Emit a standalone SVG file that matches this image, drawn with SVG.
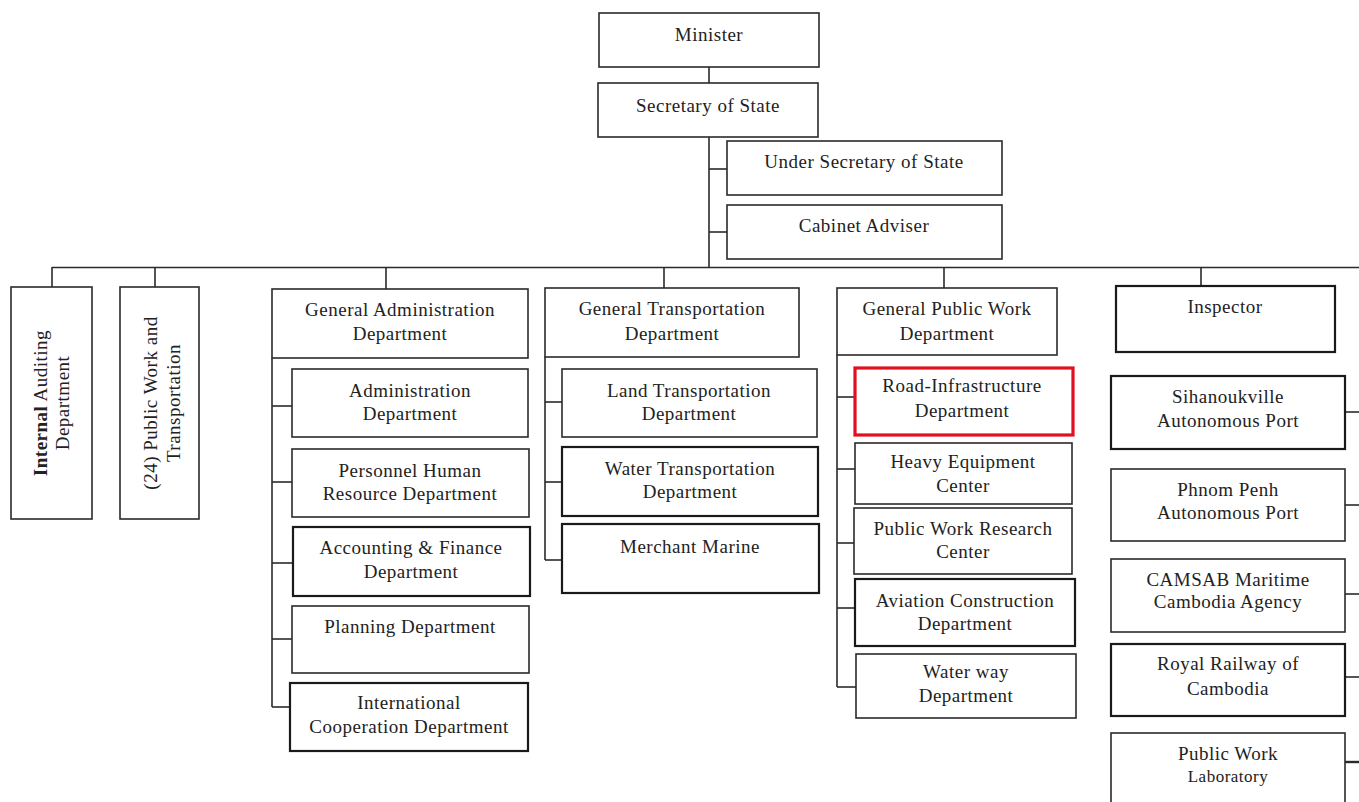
<svg xmlns="http://www.w3.org/2000/svg" width="1359" height="802" viewBox="0 0 1359 802">
<style>
.b{fill:#fff;stroke:#2a2a2a;stroke-width:1.6}
.k{fill:#fff;stroke:#1a1a1a;stroke-width:2.2}
.r{fill:#fff;stroke:#e0101e;stroke-width:3.2}
.t{font-family:"Liberation Serif","Times New Roman",serif;font-size:19px;letter-spacing:0.5px;fill:#222;text-anchor:middle}
.s{font-size:17px}
.c line{stroke:#2a2a2a;stroke-width:1.6}
</style>
<rect width="1359" height="802" fill="#fff"/>
<g class="c" id="connectors">
<line x1="709" y1="67" x2="709" y2="83"/>
<line x1="709" y1="137" x2="709" y2="268"/>
<line x1="709" y1="169" x2="727" y2="169"/>
<line x1="709" y1="232" x2="727" y2="232"/>
<line x1="52" y1="267.5" x2="1359" y2="267.5"/>
<line x1="52" y1="267" x2="52" y2="287"/>
<line x1="155" y1="267" x2="155" y2="287"/>
<line x1="386" y1="267" x2="386" y2="289"/>
<line x1="664" y1="267" x2="664" y2="288"/>
<line x1="944" y1="267" x2="944" y2="288"/>
<line x1="1201" y1="267" x2="1201" y2="286"/>
<line x1="272" y1="358" x2="272" y2="707"/>
<line x1="272" y1="406" x2="292" y2="406"/>
<line x1="272" y1="482" x2="292" y2="482"/>
<line x1="272" y1="563" x2="293" y2="563"/>
<line x1="272" y1="639" x2="292" y2="639"/>
<line x1="272" y1="707" x2="290" y2="707"/>
<line x1="545" y1="357" x2="545" y2="560"/>
<line x1="545" y1="402" x2="562" y2="402"/>
<line x1="545" y1="482" x2="562" y2="482"/>
<line x1="545" y1="560" x2="562" y2="560"/>
<line x1="837" y1="355" x2="837" y2="687"/>
<line x1="837" y1="397" x2="855" y2="397"/>
<line x1="837" y1="469" x2="855" y2="469"/>
<line x1="837" y1="543" x2="854" y2="543"/>
<line x1="837" y1="608" x2="855" y2="608"/>
<line x1="837" y1="687" x2="856" y2="687"/>
<line x1="1345" y1="412" x2="1359" y2="412"/>
<line x1="1345" y1="505" x2="1359" y2="505"/>
<line x1="1345" y1="594" x2="1359" y2="594"/>
<line x1="1345" y1="677" x2="1359" y2="677"/>
<line x1="1345" y1="762" x2="1359" y2="762" style="stroke-width:2.4"/>
</g>
<g id="minister"><rect class="b" x="599" y="13" width="220" height="54"/><text class="t" x="709" y="41">Minister</text></g>
<g id="secretary"><rect class="b" x="598" y="83" width="220" height="54"/><text class="t" x="708" y="112">Secretary of State</text></g>
<g id="under-secretary"><rect class="b" x="727" y="141" width="275" height="54"/><text class="t" x="864" y="168">Under Secretary of State</text></g>
<g id="cabinet-adviser"><rect class="b" x="727" y="205" width="275" height="54"/><text class="t" x="864" y="232">Cabinet Adviser</text></g>
<g id="internal-auditing"><rect class="b" x="11" y="287" width="81" height="232"/>
<g transform="rotate(-90 51.5 403)"><text class="t" x="51.5" y="398.5"><tspan font-weight="bold">Internal</tspan> Auditing</text><text class="t" x="51.5" y="420.5">Department</text></g></g>
<g id="public-work-24"><rect class="b" x="120" y="287" width="79" height="232"/>
<g transform="rotate(-90 159.5 403)"><text class="t" x="159.5" y="400.5">(24) Public Work and</text><text class="t" x="159.5" y="423">Transportation</text></g></g>
<g id="general-administration"><rect class="b" x="272" y="289" width="256" height="69"/><text class="t" x="400" y="316">General Administration</text><text class="t" x="400" y="340">Department</text></g>
<g id="administration"><rect class="b" x="292" y="369" width="236" height="68"/><text class="t" x="410" y="397">Administration</text><text class="t" x="410" y="420">Department</text></g>
<g id="personnel"><rect class="b" x="292" y="449" width="237" height="68"/><text class="t" x="410" y="477">Personnel Human</text><text class="t" x="410" y="500">Resource Department</text></g>
<g id="accounting"><rect class="k" x="293" y="527" width="237" height="69"/><text class="t" x="411" y="554">Accounting &amp; Finance</text><text class="t" x="411" y="578">Department</text></g>
<g id="planning"><rect class="b" x="292" y="606" width="237" height="67"/><text class="t" x="410" y="633">Planning Department</text></g>
<g id="international"><rect class="k" x="290" y="683" width="238" height="68"/><text class="t" x="409" y="709">International</text><text class="t" x="409" y="733">Cooperation Department</text></g>
<g id="general-transportation"><rect class="b" x="545" y="288" width="254" height="69"/><text class="t" x="672" y="315">General Transportation</text><text class="t" x="672" y="340">Department</text></g>
<g id="land-transportation"><rect class="b" x="562" y="369" width="255" height="68"/><text class="t" x="689" y="397">Land Transportation</text><text class="t" x="689" y="420">Department</text></g>
<g id="water-transportation"><rect class="k" x="562" y="447" width="256" height="69"/><text class="t" x="690" y="475">Water Transportation</text><text class="t" x="690" y="498">Department</text></g>
<g id="merchant-marine"><rect class="k" x="562" y="524" width="257" height="69"/><text class="t" x="690" y="553">Merchant Marine</text></g>
<g id="general-public-work"><rect class="b" x="837" y="288" width="220" height="67"/><text class="t" x="947" y="315">General Public Work</text><text class="t" x="947" y="340">Department</text></g>
<g id="road-infrastructure"><rect class="r" x="855" y="368" width="218" height="67"/><text class="t" x="962" y="392">Road-Infrastructure</text><text class="t" x="962" y="417">Department</text></g>
<g id="heavy-equipment"><rect class="b" x="855" y="443" width="217" height="61"/><text class="t" x="963" y="468">Heavy Equipment</text><text class="t" x="963" y="492">Center</text></g>
<g id="public-work-research"><rect class="b" x="854" y="508" width="218" height="66"/><text class="t" x="963" y="535">Public Work Research</text><text class="t" x="963" y="558">Center</text></g>
<g id="aviation-construction"><rect class="k" x="855" y="579" width="220" height="67"/><text class="t" x="965" y="607">Aviation Construction</text><text class="t" x="965" y="630">Department</text></g>
<g id="waterway"><rect class="b" x="856" y="654" width="220" height="64"/><text class="t" x="966" y="678">Water way</text><text class="t" x="966" y="702">Department</text></g>
<g id="inspector"><rect class="k" x="1116" y="286" width="219" height="66"/><text class="t" x="1225" y="313">Inspector</text></g>
<g id="sihanoukville"><rect class="k" x="1111" y="376" width="234" height="73"/><text class="t" x="1228" y="403">Sihanoukville</text><text class="t" x="1228" y="427">Autonomous Port</text></g>
<g id="phnom-penh"><rect class="b" x="1111" y="469" width="234" height="72"/><text class="t" x="1228" y="496">Phnom Penh</text><text class="t" x="1228" y="519">Autonomous Port</text></g>
<g id="camsab"><rect class="b" x="1111" y="559" width="234" height="73"/><text class="t" x="1228" y="586">CAMSAB Maritime</text><text class="t" x="1228" y="608">Cambodia Agency</text></g>
<g id="royal-railway"><rect class="k" x="1111" y="644" width="234" height="72"/><text class="t" x="1228" y="670">Royal Railway of</text><text class="t" x="1228" y="695">Cambodia</text></g>
<g id="public-work-laboratory"><rect class="b" x="1111" y="733" width="234" height="80"/><text class="t" x="1228" y="760">Public Work</text><text class="t s" x="1228" y="782">Laboratory</text></g>
</svg>
